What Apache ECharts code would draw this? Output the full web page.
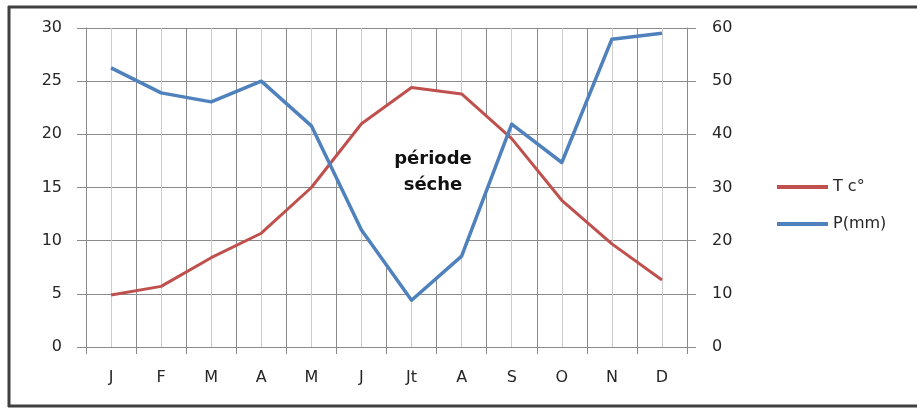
<!DOCTYPE html>
<html>
<head>
<meta charset="utf-8">
<script src="https://cdn.jsdelivr.net/npm/echarts@6/dist/echarts.min.js"></script>
<style>
html,body{margin:0;padding:0;background:#fff;overflow:hidden;}
#c{width:917px;height:408px;}
</style>
</head>
<body>
<div id="c"></div>
<script>
const months = ['J','F','M','A','M','J','Jt','A','S','O','N','D'];
const temperature = [4.9, 5.7, 8.4, 10.7, 15.0, 21.0, 24.4, 23.8, 19.6, 13.8, 9.7, 6.3];
const precipitation = [52.5, 47.8, 46.1, 50.0, 41.6, 22.0, 8.8, 17.1, 41.9, 34.7, 57.9, 59.0];
const tempTicks = [0, 30, 5];   // min, max, interval
const precTicks = [0, 60, 10];

const chart = echarts.init(document.getElementById('c'));
const labelFont = {fontFamily: 'DejaVu Sans', fontSize: 16, color: '#262626'};

// dry period region between P and 2T (same scale on right axis)
function renderDry(params, api) {
  const i = params.dataIndex;
  if (i >= months.length - 1) return null;
  const d0 = 2 * temperature[i] - precipitation[i];
  const d1 = 2 * temperature[i + 1] - precipitation[i + 1];
  const a0 = api.coord([i, precipitation[i]]);
  const a1 = api.coord([i + 1, precipitation[i + 1]]);
  const b0 = api.coord([i, 2 * temperature[i]]);
  const b1 = api.coord([i + 1, 2 * temperature[i + 1]]);
  const lerp = (p, q, t) => [p[0] + (q[0] - p[0]) * t, p[1] + (q[1] - p[1]) * t];
  let pts = null;
  if (d0 > 0 && d1 > 0) pts = [a0, a1, b1, b0];
  else if (d0 <= 0 && d1 > 0) { const c = lerp(a0, a1, d0 / (d0 - d1)); pts = [c, a1, b1]; }
  else if (d0 > 0 && d1 <= 0) { const c = lerp(a0, a1, d0 / (d0 - d1)); pts = [a0, c, b0]; }
  if (!pts) return null;
  return {type: 'polygon', shape: {points: pts}, style: {fill: '#ffffff', stroke: '#ffffff', lineWidth: 1}};
}

const frameStyle = {stroke: '#404040', lineWidth: 3};

chart.setOption({
  animation: false,
  backgroundColor: '#ffffff',
  grid: {left: 86, right: 230, top: 28, bottom: 61},
  xAxis: [
    {
      type: 'value', min: 0, max: 24, interval: 1,
      axisLine: {show: false}, axisTick: {show: false}, axisLabel: {show: false},
      splitLine: {show: true, lineStyle: {color: '#cbcbcb', width: 1}}
    },
    {
      type: 'category', data: months, boundaryGap: true, position: 'bottom',
      axisLine: {show: true, lineStyle: {color: '#8a8a8a', width: 1}},
      axisTick: {show: true, length: 7, interval: 0, lineStyle: {color: '#8a8a8a'}},
      axisLabel: Object.assign({margin: 23, interval: 0}, labelFont),
      splitLine: {show: true, interval: 0, lineStyle: {color: '#8a8a8a', width: 1}}
    }
  ],
  yAxis: [
    {
      type: 'value', min: tempTicks[0], max: tempTicks[1], interval: tempTicks[2],
      axisLine: {show: true, lineStyle: {color: '#8a8a8a'}},
      axisTick: {show: true, length: 9, lineStyle: {color: '#8a8a8a'}},
      axisLabel: Object.assign({margin: 24}, labelFont),
      splitLine: {show: true, lineStyle: {color: '#8a8a8a', width: 1}}
    },
    {
      type: 'value', min: precTicks[0], max: precTicks[1], interval: precTicks[2], position: 'right',
      axisLine: {show: true, lineStyle: {color: '#8a8a8a'}},
      axisTick: {show: true, length: 9, lineStyle: {color: '#8a8a8a'}},
      axisLabel: Object.assign({margin: 25}, labelFont),
      splitLine: {show: false}
    }
  ],
  legend: {
    orient: 'vertical', left: 777, top: 179, padding: 0, itemWidth: 51, itemHeight: 4, itemGap: 21,
    icon: 'rect',
    textStyle: {fontFamily: 'DejaVu Sans', fontSize: 16, color: '#262626'},
    data: ['T c°', 'P(mm)']
  },
  series: [
    {
      type: 'custom', xAxisIndex: 1, yAxisIndex: 1, renderItem: renderDry,
      data: precipitation.map((p, i) => [i, p]), z: 1, silent: true
    },
    {
      name: 'T c°', type: 'line', xAxisIndex: 1, yAxisIndex: 0, data: temperature,
      symbol: 'none', lineStyle: {color: '#C0504D', width: 3, join: 'round'},
      itemStyle: {color: '#C0504D'}, z: 3
    },
    {
      name: 'P(mm)', type: 'line', xAxisIndex: 1, yAxisIndex: 1, data: precipitation,
      symbol: 'none', lineStyle: {color: '#4F81BD', width: 3.5, join: 'round'},
      itemStyle: {color: '#4F81BD'}, z: 4
    }
  ],
  graphic: [
    {type: 'line', shape: {x1: 8, y1: 7, x2: 917, y2: 7}, style: frameStyle, silent: true, z: 100},
    {type: 'line', shape: {x1: 9, y1: 6, x2: 9, y2: 407}, style: frameStyle, silent: true, z: 100},
    {type: 'line', shape: {x1: 8, y1: 406, x2: 917, y2: 406}, style: frameStyle, silent: true, z: 100},
    {type: 'text', x: 433, y: 159, style: {text: 'période', fill: '#111', font: 'bold 18px "DejaVu Sans"', align: 'center', verticalAlign: 'middle'}, z: 50},
    {type: 'text', x: 433, y: 185, style: {text: 'séche', fill: '#111', font: 'bold 18px "DejaVu Sans"', align: 'center', verticalAlign: 'middle'}, z: 50}
  ]
});
</script>
</body>
</html>
